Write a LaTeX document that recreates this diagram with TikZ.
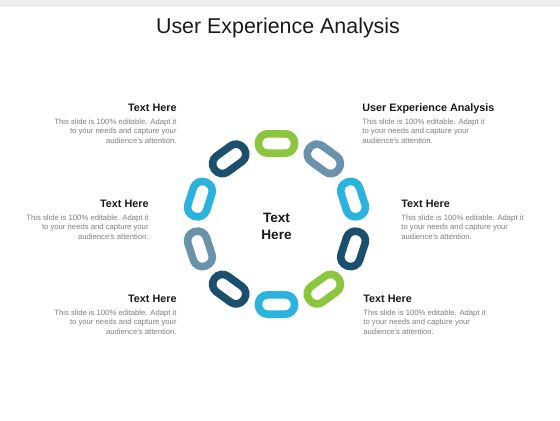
\documentclass[tikz,border=0pt]{standalone}
\usepackage{fontspec}
\setmainfont{Liberation Sans}
\usepackage{tikz}
\usetikzlibrary{positioning}
\definecolor{leaf}{HTML}{8CC63F}
\definecolor{slate}{HTML}{6A93AB}
\definecolor{sky}{HTML}{2BB3DF}
\definecolor{navy}{HTML}{1B4F6E}
\definecolor{ink}{HTML}{1A1A1A}
\definecolor{note}{HTML}{7F7F7F}
\tikzset{
  ring/.style={draw, line width=3.8pt, rounded corners=4.6pt, minimum width=18pt,
    minimum height=9.7pt, inner sep=0pt},
  hdr/.style={ink, inner sep=0pt, text depth=0pt, font=\fontsize{5.4}{6}\selectfont\bfseries},
  body/.style={note, inner sep=0pt, font=\fontsize{3.85}{4.85}\selectfont},
}

\begin{document}
\begin{tikzpicture}[x=0.5pt,y=0.5pt]
        \useasboundingbox (0,0) rectangle (560,420);
        \fill[white] (0,0) rectangle (560,420);
        \fill[black!7] (0,413) rectangle (560,420);
        \node[ink,anchor=base,inner sep=0pt,font=\fontsize{10.7}{12}\selectfont] (title) at (278,386.3) {User Experience Analysis};

        \coordinate (mid) at (276.5,196);
        \node[ink,align=center,inner sep=0pt,font=\fontsize{6.8}{8.5}\selectfont\bfseries] (hub) at (276.5,193.5) {Text\\Here};
        \foreach \a/\c [count=\i] in {90/leaf,54/slate,18/sky,-18/navy,-54/leaf,-90/sky,-126/navy,-162/slate,162/sky,126/navy}
          \node[ring,draw=\c,rotate=\a+90] (ring\i) at ([shift={(\a:80.5)}]mid) {};

        \node[hdr,anchor=base east] (h1) at (177,309) {Text Here};
        \node[body,align=right,below=3.4pt of h1.south east,anchor=north east] (b1) {This slide is 100\% editable. Adapt it\\to your needs and capture your\\audience's attention.};
        \node[hdr,anchor=base west] (h2) at (362,309) {User Experience Analysis};
        \node[body,align=left,below=3.4pt of h2.south west,anchor=north west] (b2) {This slide is 100\% editable. Adapt it\\to your needs and capture your\\audience's attention.};
        \node[hdr,anchor=base east] (h3) at (149,213) {Text Here};
        \node[body,align=right,below=3.4pt of h3.south east,anchor=north east] (b3) {This slide is 100\% editable. Adapt it\\to your needs and capture your\\audience's attention.};
        \node[hdr,anchor=base west] (h4) at (401,213) {Text Here};
        \node[body,align=left,below=3.4pt of h4.south west,anchor=north west] (b4) {This slide is 100\% editable. Adapt it\\to your needs and capture your\\audience's attention.};
        \node[hdr,anchor=base east] (h5) at (177,118) {Text Here};
        \node[body,align=right,below=3.4pt of h5.south east,anchor=north east] (b5) {This slide is 100\% editable. Adapt it\\to your needs and capture your\\audience's attention.};
        \node[hdr,anchor=base west] (h6) at (363,118) {Text Here};
        \node[body,align=left,below=3.4pt of h6.south west,anchor=north west] (b6) {This slide is 100\% editable. Adapt it\\to your needs and capture your\\audience's attention.};
      \end{tikzpicture}
\end{document}
